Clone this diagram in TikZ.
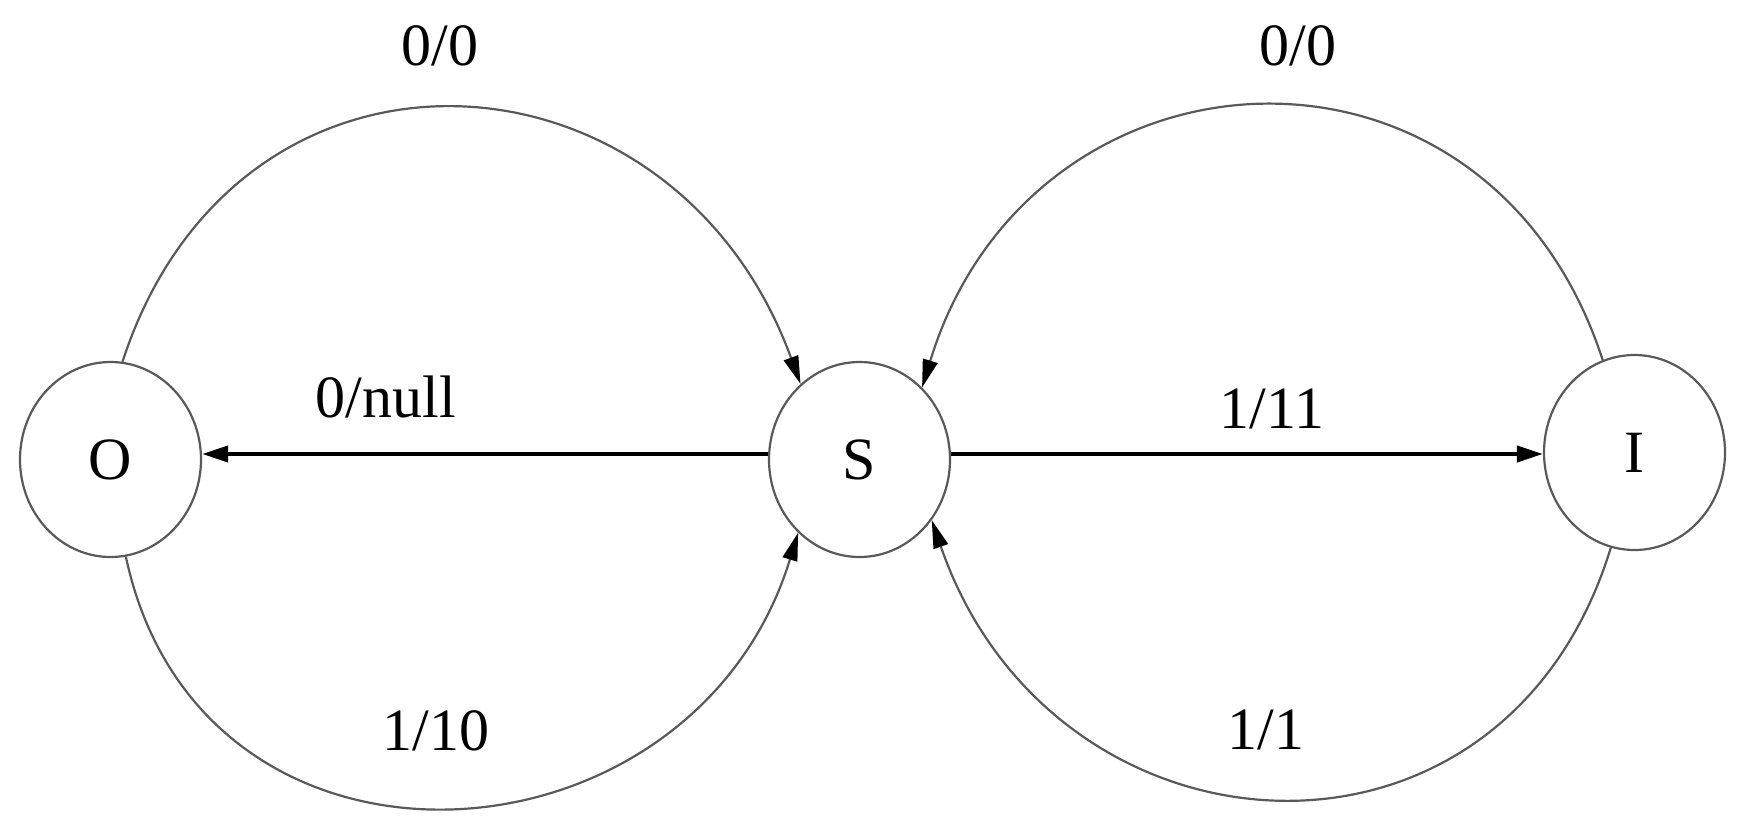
\documentclass[tikz,border=0pt]{standalone}
\usepackage{fontspec}
\setmainfont{Liberation Serif}
\usetikzlibrary{arrows.meta,shapes.geometric}
\begin{document}
\begin{tikzpicture}[x=0.5pt,y=0.5pt,
  state/.style={ellipse,draw=black!65,line width=1.1pt,minimum width=90.5pt,minimum height=97.5pt,inner sep=0pt,font=\fontsize{30}{36}\selectfont},
  lbl/.style={anchor=base,inner sep=0pt,font=\fontsize{30}{36}\selectfont},
  arcedge/.style={draw=black!65,line width=1.1pt,-{Triangle[length=14pt,width=7.5pt,color=black]}},
  straightedge/.style={draw=black,line width=2pt,-{Triangle[length=13pt,width=8pt]}}]
\useasboundingbox (0,0) rectangle (1749,827);
\node[state] (O) at (110.5,367.5) {O};
\node[state] (S) at (859.5,367.5) {S};
\node[state] (I) at (1634.5,374.5) {I};
\draw[arcedge] (O.83) to[out=72,in=110,looseness=1.4] (S.128);
\draw[arcedge] (I.109) to[out=108,in=73,looseness=1.4] (S.49);
\draw[arcedge] (O.279) to[out=282,in=253,looseness=1.37] (S.230);
\draw[arcedge] (I.256) to[out=253,in=289,looseness=1.39] (S.320);
\draw[straightedge] ([yshift=2.75pt]S.west) -- ([yshift=2.75pt]O.east);
\draw[straightedge] ([yshift=2.75pt]S.east) -- ([yshift=-0.75pt]I.west);
\node[lbl] (l1) at (440,762) {0/0};
\node[lbl] (l2) at (1298,762) {0/0};
\node[lbl] (l3) at (386,410) {0/null};
\node[lbl] (l4) at (1272,399) {1/11};
\node[lbl] (l5) at (436,77) {1/10};
\node[lbl] (l6) at (1266,78) {1/1};
\end{tikzpicture}
\end{document}
